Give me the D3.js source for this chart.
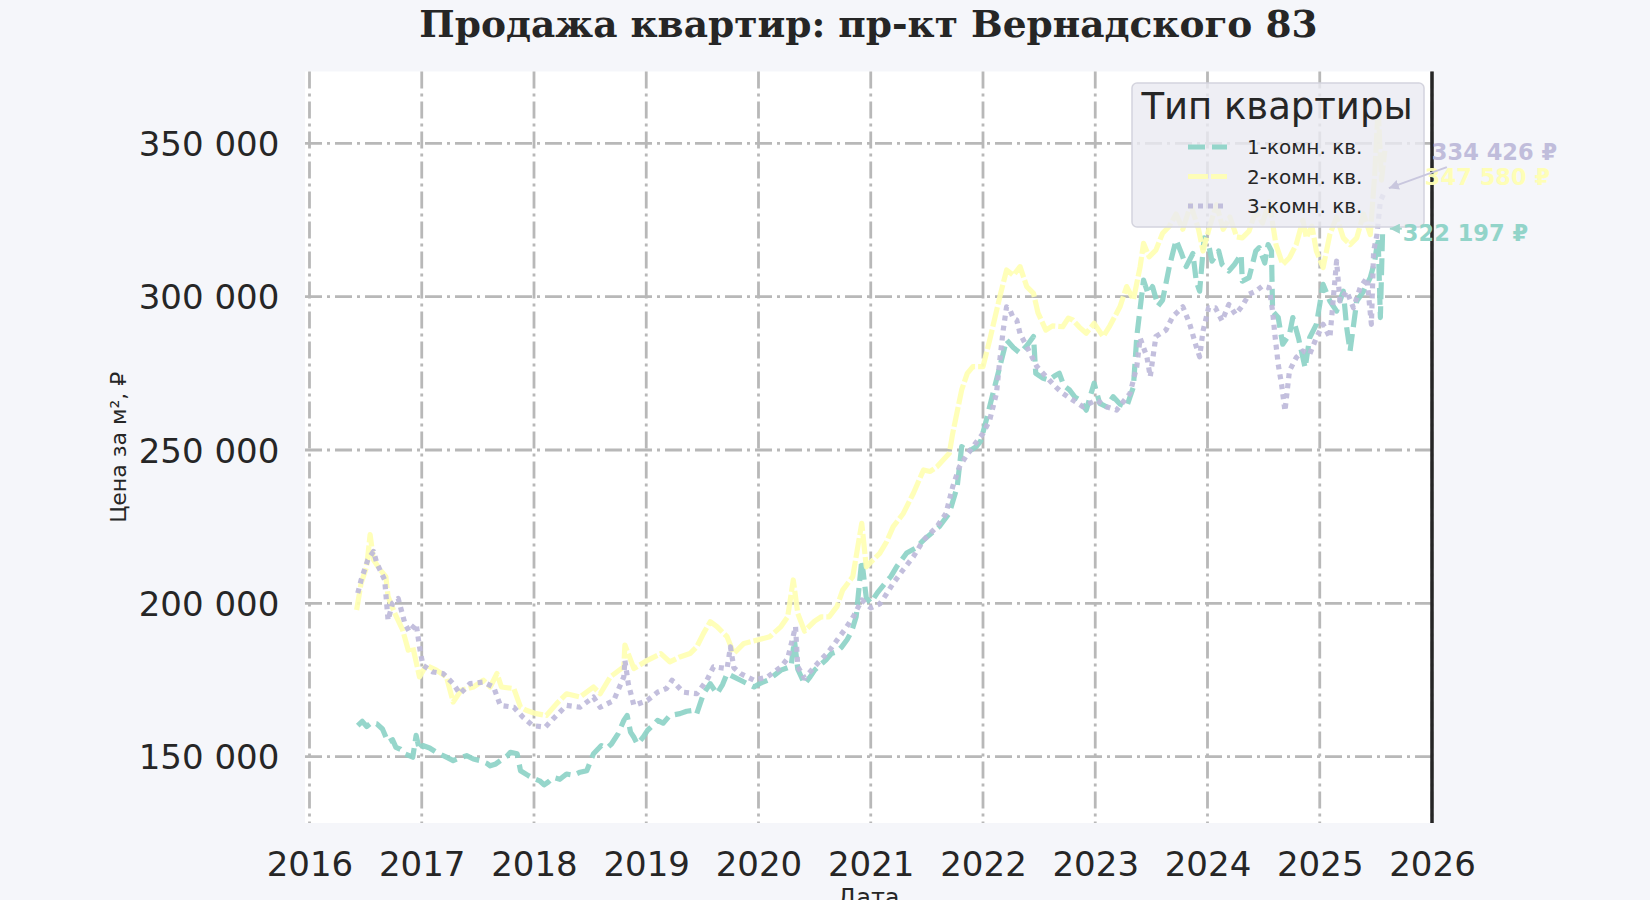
<!DOCTYPE html>
<html>
<head>
<meta charset="utf-8">
<script src="https://cdn.jsdelivr.net/npm/d3@7"></script>
<style>
  html, body { margin: 0; padding: 0; background: #f5f6fa; }
  svg { display: block; }
</style>
</head>
<body>
<svg id="chart" width="1650" height="900"></svg>
<script>
// ---------------- DATA ----------------
const chartTitle = "Продажа квартир: пр-кт Вернадского 83";
const xLabel = "Дата";
const yLabel = "Цена за м², ₽";
const legendTitle = "Тип квартиры";
const seriesNames = ["1-комн. кв.", "2-комн. кв.", "3-комн. кв."];
const xTickValues = [2016, 2017, 2018, 2019, 2020, 2021, 2022, 2023, 2024, 2025, 2026];
const yTickValues = [150000, 200000, 250000, 300000, 350000];

// 1-комн. кв. (dates as decimal years)
const t1 = [2016.43,2016.47,2016.51,2016.55,2016.60,2016.65,2016.70,2016.74,2016.77,2016.81,2016.85,2016.92,2016.95,2016.98,2017.01,2017.07,2017.13,2017.22,2017.28,2017.34,2017.40,2017.46,2017.52,2017.58,2017.61,2017.66,2017.70,2017.76,2017.79,2017.85,2017.88,2017.95,2018.00,2018.05,2018.09,2018.13,2018.17,2018.23,2018.29,2018.35,2018.41,2018.47,2018.53,2018.60,2018.65,2018.69,2018.75,2018.80,2018.83,2018.86,2018.89,2018.92,2018.97,2019.01,2019.06,2019.10,2019.15,2019.21,2019.30,2019.36,2019.42,2019.45,2019.51,2019.57,2019.63,2019.68,2019.72,2019.78,2019.84,2019.90,2019.96,2020.02,2020.08,2020.14,2020.20,2020.26,2020.29,2020.32,2020.35,2020.41,2020.46,2020.50,2020.55,2020.60,2020.65,2020.70,2020.74,2020.79,2020.83,2020.87,2020.92,2020.96,2021.00,2021.06,2021.12,2021.18,2021.23,2021.32,2021.40,2021.47,2021.54,2021.61,2021.70,2021.77,2021.81,2021.87,2021.94,2021.98,2022.03,2022.09,2022.15,2022.21,2022.27,2022.33,2022.39,2022.45,2022.47,2022.53,2022.59,2022.64,2022.68,2022.72,2022.77,2022.82,2022.86,2022.92,2022.96,2022.99,2023.04,2023.10,2023.16,2023.22,2023.28,2023.34,2023.37,2023.43,2023.47,2023.51,2023.56,2023.60,2023.66,2023.72,2023.77,2023.81,2023.87,2023.90,2023.93,2023.97,2024.01,2024.04,2024.10,2024.13,2024.19,2024.24,2024.30,2024.31,2024.37,2024.43,2024.46,2024.51,2024.54,2024.57,2024.58,2024.63,2024.67,2024.73,2024.76,2024.81,2024.87,2024.91,2024.97,2025.03,2025.09,2025.15,2025.21,2025.24,2025.27,2025.33,2025.39,2025.45,2025.49,2025.52,2025.54,2025.56,2025.58];
const v1 = [160100,161500,159800,161000,160700,159000,154700,155500,153000,152400,150900,149800,156900,152000,153600,152800,151400,149800,148700,149600,150300,149200,148700,147800,147000,147600,148700,150200,151400,150900,145400,143800,142800,142100,140800,141800,143200,142600,144300,143900,144900,145400,150900,153600,152800,154100,157500,161800,163400,158000,156300,154100,156200,158500,160200,161800,160900,163400,164000,164800,165100,164000,170500,173800,170500,173500,177100,176000,174900,173800,172700,174000,174900,176500,178200,179000,179300,188000,178500,173700,176000,178200,179900,181500,183600,184200,185700,188200,190900,195600,214100,201800,200100,203500,206200,208800,211900,216400,218000,220600,222800,225000,229400,238000,251100,249500,251100,253000,259800,268600,277200,285900,283400,281600,284000,287000,275000,273500,272800,274200,275000,271000,269600,267200,266300,263000,268000,271800,265200,264100,267400,265000,264100,270600,287000,305400,301000,303300,297000,298900,309800,318500,314000,309800,314100,305000,301800,319200,317000,311600,314900,310500,308400,310500,313800,305100,306200,314900,316000,311000,317000,314900,295300,293200,284500,287700,293200,286600,276800,286600,291000,304000,298600,295300,301800,289900,282300,298600,301800,306200,311600,319200,293200,321400,322197];

// 2-комн. кв.
const t2 = [2016.42,2016.46,2016.51,2016.54,2016.57,2016.63,2016.68,2016.70,2016.76,2016.83,2016.88,2016.92,2016.98,2017.04,2017.13,2017.22,2017.28,2017.35,2017.46,2017.55,2017.61,2017.67,2017.71,2017.82,2017.88,2017.93,2018.02,2018.11,2018.20,2018.29,2018.41,2018.53,2018.59,2018.68,2018.80,2018.81,2018.89,2019.01,2019.13,2019.21,2019.30,2019.39,2019.45,2019.51,2019.57,2019.63,2019.72,2019.78,2019.87,2019.99,2020.10,2020.20,2020.26,2020.31,2020.35,2020.41,2020.50,2020.56,2020.63,2020.70,2020.75,2020.84,2020.92,2020.96,2021.08,2021.14,2021.20,2021.29,2021.38,2021.47,2021.53,2021.59,2021.70,2021.73,2021.81,2021.86,2021.91,2022.00,2022.06,2022.15,2022.21,2022.27,2022.33,2022.39,2022.45,2022.49,2022.56,2022.62,2022.71,2022.76,2022.80,2022.86,2022.92,2022.99,2023.07,2023.13,2023.19,2023.22,2023.28,2023.34,2023.40,2023.43,2023.48,2023.54,2023.60,2023.66,2023.72,2023.78,2023.85,2023.92,2023.96,2024.02,2024.08,2024.14,2024.20,2024.26,2024.31,2024.37,2024.43,2024.49,2024.55,2024.61,2024.67,2024.73,2024.79,2024.85,2024.88,2024.93,2024.97,2025.03,2025.09,2025.15,2025.21,2025.27,2025.33,2025.39,2025.45,2025.49,2025.52,2025.55,2025.58];
const v2 = [197800,206600,212000,222400,214200,210900,208700,202200,196700,191300,184700,185800,176000,179800,178200,176000,167800,171600,172700,174900,172700,177100,172700,172200,166100,165100,164000,163400,167200,170500,169400,172700,170500,176000,179300,186400,178700,181400,183600,180900,182500,183600,185800,190200,194000,192400,189100,183600,186900,188000,189100,192400,195600,207600,196700,190900,194200,195600,195600,199000,204300,208700,226100,211900,216300,220000,225000,229300,235900,243500,243000,244500,248900,255400,269600,275000,277200,277200,285900,300000,308700,307000,309800,303300,301100,294700,289100,290500,290200,293000,292400,290000,288100,291300,287000,290500,294600,296700,303300,299000,309800,317400,313000,315200,320700,323000,327000,322000,330000,322000,314900,323000,330000,322000,326000,319500,319200,321400,328000,324000,331000,317000,310500,312700,317000,325000,319200,323000,314900,309500,320300,326000,319200,317000,319200,327000,320300,340000,362000,338000,347580];

// 3-комн. кв.
const t3 = [2016.43,2016.46,2016.52,2016.57,2016.60,2016.67,2016.70,2016.74,2016.79,2016.85,2016.89,2016.95,2016.98,2017.01,2017.10,2017.19,2017.28,2017.34,2017.43,2017.55,2017.64,2017.70,2017.82,2017.90,2017.99,2018.10,2018.17,2018.29,2018.41,2018.53,2018.59,2018.71,2018.80,2018.81,2018.84,2018.89,2019.01,2019.10,2019.18,2019.23,2019.33,2019.45,2019.54,2019.60,2019.72,2019.75,2019.78,2019.84,2019.96,2020.08,2020.20,2020.26,2020.33,2020.35,2020.41,2020.48,2020.55,2020.62,2020.70,2020.78,2020.85,2020.92,2021.00,2021.08,2021.14,2021.20,2021.29,2021.38,2021.47,2021.59,2021.67,2021.73,2021.79,2021.85,2021.91,2022.00,2022.06,2022.12,2022.15,2022.18,2022.21,2022.24,2022.27,2022.30,2022.33,2022.39,2022.48,2022.59,2022.65,2022.71,2022.80,2022.89,2023.01,2023.10,2023.19,2023.31,2023.37,2023.40,2023.46,2023.49,2023.54,2023.63,2023.69,2023.78,2023.84,2023.90,2023.93,2023.96,2024.01,2024.07,2024.13,2024.19,2024.25,2024.31,2024.37,2024.43,2024.49,2024.55,2024.58,2024.60,2024.63,2024.66,2024.69,2024.73,2024.79,2024.85,2024.91,2024.97,2025.03,2025.09,2025.15,2025.18,2025.24,2025.30,2025.36,2025.42,2025.46,2025.48,2025.51,2025.54,2025.58];
const v3 = [203300,207600,214200,216900,213100,207600,194500,200000,201600,193400,190700,193400,185800,179800,177600,177100,173800,170500,173800,174300,172700,166700,166100,162900,160100,159600,162300,166700,166100,169400,166100,168300,176000,181400,173800,166700,168300,171000,172200,174900,171000,170500,174900,179300,178700,185800,179000,177100,174900,176000,179300,182000,192400,179300,175600,178500,181400,184000,188000,192000,196000,201100,198500,199800,203000,206500,211000,215200,220600,225000,229300,238000,244500,248000,251100,255400,259800,268500,279400,289100,296700,295700,293000,292400,288000,283700,277200,272800,270500,268500,266300,264100,266300,264100,263000,268500,277200,286500,280400,273900,287000,289100,293500,296700,291300,283700,280400,288800,296400,296400,292100,297500,294200,297000,300800,301800,303500,302900,295300,287700,277900,271400,262700,275800,280100,282300,281200,286600,291000,286600,311600,298600,301800,296400,302900,306200,291000,314900,320300,331200,334426];

// ---------------- STYLE ----------------
const colors = ["#8dd3c7", "#ffffb3", "#bebada"];
const dashes = ["17,7", "20,3", "5,5"];
const labelOffsets = [[18, 4], [40, 26], [47, -39]];   // label centre offset from series end point (px)
const arrowOffsets = [[[17, 0], [5, 0]], null, [[62, -24], [4, -3]]];

const W = 1650, H = 900;
const margin = { left: 305, right: W - 1432, top: 71.5, bottom: H - 823 };
const svg = d3.select("#chart");
const fontSans = "'DejaVu Sans', 'Liberation Sans', sans-serif";
const fontSerif = "'DejaVu Serif', 'Liberation Serif', serif";

svg.append("rect").attr("width", W).attr("height", H).attr("fill", "#f5f6fa");

const x = d3.scaleLinear().domain([2015.96, 2026.0]).range([margin.left, W - margin.right]);
const y = d3.scaleLinear().domain([128340, 373450]).range([H - margin.bottom, margin.top]);

// plot background
svg.append("rect")
  .attr("x", x.range()[0]).attr("y", y.range()[1])
  .attr("width", x.range()[1] - x.range()[0])
  .attr("height", y.range()[0] - y.range()[1])
  .attr("fill", "#ffffff");

const locale = d3.formatLocale({ decimal: ",", thousands: " ", grouping: [3], currency: ["", " ₽"] });
const fmt = locale.format(",d");

// grid
const gridColor = "#b8b8b8";
const gridDash = "17,5,3,5";
const gx = svg.append("g").attr("class", "grid-x");
gx.selectAll("line").data(xTickValues).join("line")
  .attr("x1", d => x(d)).attr("x2", d => x(d))
  .attr("y1", y.range()[1]).attr("y2", y.range()[0])
  .attr("stroke", gridColor).attr("stroke-width", 2.8).attr("stroke-dasharray", gridDash);
const gy = svg.append("g").attr("class", "grid-y");
gy.selectAll("line").data(yTickValues).join("line")
  .attr("x1", x.range()[0]).attr("x2", x.range()[1])
  .attr("y1", d => y(d)).attr("y2", d => y(d))
  .attr("stroke", gridColor).attr("stroke-width", 2.8).attr("stroke-dasharray", gridDash);

// axes (labels only, no tick marks)
const xAxis = d3.axisBottom(x).tickValues(xTickValues).tickFormat(d3.format("d")).tickSize(0).tickPadding(0);
const gxa = svg.append("g").attr("transform", `translate(0,${H - margin.bottom})`).call(xAxis);
gxa.select(".domain").remove();
gxa.selectAll("text").attr("font-family", fontSans).attr("font-size", 34).attr("fill", "#262626")
  .attr("dy", null).attr("y", 53);

const yAxis = d3.axisLeft(y).tickValues(yTickValues).tickFormat(fmt).tickSize(0).tickPadding(0);
const gya = svg.append("g").attr("transform", `translate(${x.range()[0]},0)`).call(yAxis);
gya.select(".domain").remove();
gya.selectAll("text").attr("font-family", fontSans).attr("font-size", 34).attr("fill", "#262626")
  .attr("x", -25.7).attr("dy", "0.36em");

// series
const series = [
  { name: seriesNames[0], t: t1, v: v1 },
  { name: seriesNames[1], t: t2, v: v2 },
  { name: seriesNames[2], t: t3, v: v3 }
];
svg.append("clipPath").attr("id", "clip").append("rect")
  .attr("x", x.range()[0]).attr("y", y.range()[1])
  .attr("width", x.range()[1] - x.range()[0]).attr("height", y.range()[0] - y.range()[1]);

const line = d3.line().x(d => x(d[0])).y(d => y(d[1]));
const gLines = svg.append("g").attr("clip-path", "url(#clip)");
series.forEach((s, i) => {
  const pts = s.t.map((tt, k) => [tt, s.v[k]]);
  gLines.append("path").datum(pts)
    .attr("d", line)
    .attr("fill", "none")
    .attr("stroke", colors[i])
    .attr("stroke-width", 5.2)
    .attr("stroke-dasharray", dashes[i])
    .attr("stroke-linejoin", "round")
    .attr("stroke-linecap", "butt")
    .attr("opacity", 0.92);
});

// right spine
svg.append("line")
  .attr("x1", x.range()[1]).attr("x2", x.range()[1])
  .attr("y1", y.range()[1]).attr("y2", y.range()[0])
  .attr("stroke", "#262626").attr("stroke-width", 3.5);

// axis titles
svg.append("text")
  .attr("transform", `translate(126,${(y.range()[0] + y.range()[1]) / 2}) rotate(-90)`)
  .attr("text-anchor", "middle").attr("font-family", fontSans).attr("font-size", 22)
  .attr("fill", "#262626").text(yLabel);
svg.append("text")
  .attr("x", (x.range()[0] + x.range()[1]) / 2).attr("y", 906)
  .attr("text-anchor", "middle").attr("font-family", fontSans).attr("font-size", 24)
  .attr("fill", "#262626").text(xLabel);

// title
svg.append("text")
  .attr("x", (x.range()[0] + x.range()[1]) / 2).attr("y", 37)
  .attr("text-anchor", "middle").attr("font-family", fontSerif).attr("font-weight", "bold")
  .attr("font-size", 37.5).attr("fill", "#262626").text(chartTitle);

// legend
const lg = svg.append("g").attr("transform", "translate(1132,83)");
lg.append("rect").attr("width", 292).attr("height", 144).attr("rx", 5)
  .attr("fill", "#eaeaf2").attr("fill-opacity", 0.82)
  .attr("stroke", "#d4d4de").attr("stroke-width", 1.5);
lg.append("text").attr("x", 145).attr("y", 35.5).attr("text-anchor", "middle")
  .attr("font-family", fontSans).attr("font-size", 37).attr("fill", "#262626").text(legendTitle);
seriesNames.forEach((nm, i) => {
  const cy = 64 + i * 29.5;
  lg.append("line").attr("x1", 56).attr("x2", 95).attr("y1", cy).attr("y2", cy)
    .attr("stroke", colors[i]).attr("stroke-width", 5).attr("stroke-dasharray", dashes[i]).attr("opacity", 0.92);
  lg.append("text").attr("x", 115).attr("y", cy).attr("dy", "0.36em")
    .attr("font-family", fontSans).attr("font-size", 20).attr("fill", "#262626").text(nm);
});

// end-value annotations
const defs = svg.append("defs");
series.forEach((s, i) => {
  const n = s.t.length - 1;
  const ex = x(s.t[n]), ey = y(s.v[n]);
  const arr = arrowOffsets[i];
  if (arr) {
    const id = "ah" + i;
    const col = i === 2 ? "#c9c7de" : "#9fd6cc";
    defs.append("marker").attr("id", id).attr("viewBox", "0 0 10 10")
      .attr("refX", 10).attr("refY", 5).attr("markerWidth", 5).attr("markerHeight", 5)
      .attr("markerUnits", "strokeWidth").attr("orient", "auto")
      .append("path").attr("d", "M0,0 L10,5 L0,10 z").attr("fill", col);
    svg.append("line")
      .attr("x1", ex + arr[0][0]).attr("y1", ey + arr[0][1])
      .attr("x2", ex + arr[1][0]).attr("y2", ey + arr[1][1])
      .attr("stroke", col).attr("stroke-width", 2).attr("marker-end", `url(#${id})`);
  }
  svg.append("text")
    .attr("x", ex + labelOffsets[i][0]).attr("y", ey + labelOffsets[i][1]).attr("dy", "0.36em")
    .attr("font-family", fontSans).attr("font-weight", "bold").attr("font-size", 22.5)
    .attr("fill", colors[i]).attr("opacity", 0.95)
    .text(fmt(s.v[n]) + " ₽");
});
</script>
</body>
</html>
